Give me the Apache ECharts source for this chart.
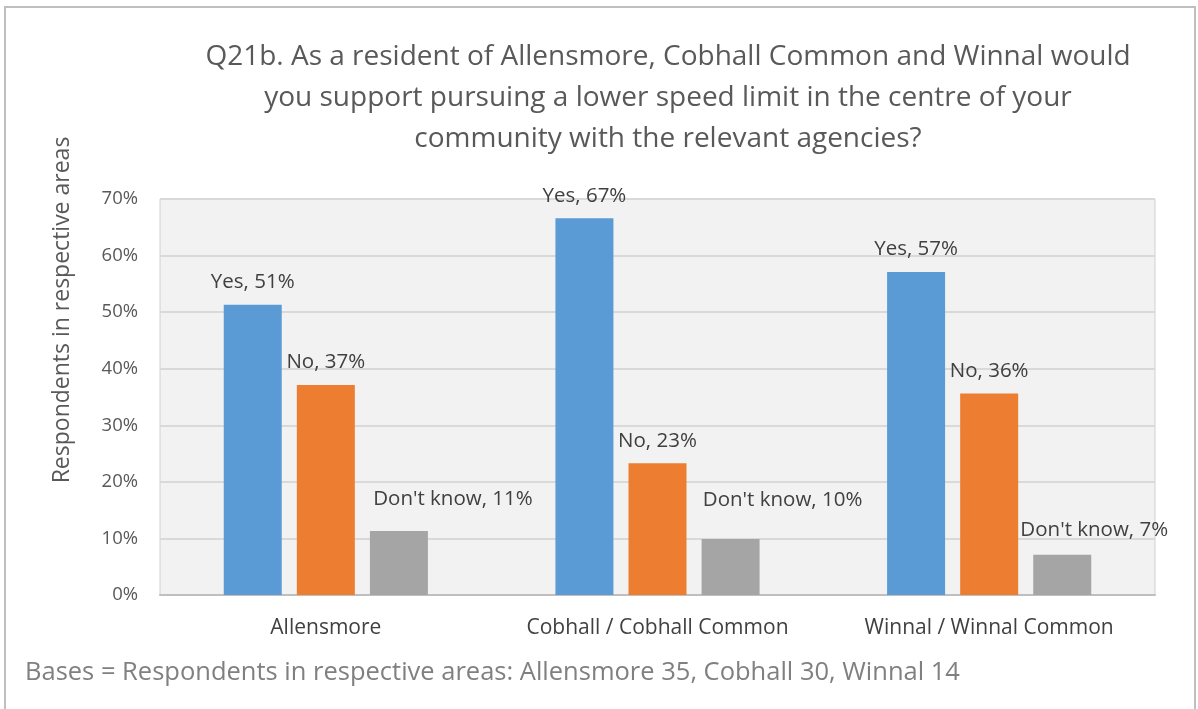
<!DOCTYPE html>
<html><head><meta charset="utf-8">
<script src="https://cdn.jsdelivr.net/npm/echarts@6/dist/echarts.min.js"></script>
<style>html,body{margin:0;padding:0;background:#fff}#c{width:1198px;height:709px}</style>
</head><body><div id="c"></div>
<script>
const categories = ['Allensmore', 'Cobhall / Cobhall Common', 'Winnal / Winnal Common'];
const seriesNames = ['Yes', 'No', "Don't know"];
const yesValues = [51.3, 66.6, 57.1];
const noValues = [37.1, 23.3, 35.6];
const dkValues = [11.3, 9.9, 7.1];
const yTicks = [0, 10, 20, 30, 40, 50, 60, 70];
const titleText = 'Q21b. As a resident of Allensmore, Cobhall Common and Winnal would\nyou support pursuing a lower speed limit in the centre of your\ncommunity with the relevant agencies?';
const yAxisTitle = 'Respondents in respective areas';
const footText = 'Bases = Respondents in respective areas: Allensmore 35, Cobhall 30, Winnal 14';

const font = '"Open Sans", sans-serif';
const colors = ['#5b9bd5', '#ed7d31', '#a5a5a5'];
const labelStyle = {show: true, position: 'top', distance: 12, color: '#404040', fontSize: 20.5, fontFamily: font,
  formatter: p => p.seriesName + ', ' + Math.round(p.value) + '%'};
// per-item label tweaks for the "Don't know" series
const dkLabelTweaks = [[54, -9], [52, -16], [32, -2]];

function mk(name, vals, idx, tweaks) {
  return {
    name: name, type: 'bar', barWidth: 58, barGap: '26%',
    itemStyle: {color: colors[idx]},
    label: labelStyle,
    data: vals.map((v, i) => tweaks ? {value: v, label: {offset: tweaks[i]}} : v)
  };
}

const chart = echarts.init(document.getElementById('c'), null, {renderer: 'canvas'});
chart.setOption({
  animation: false,
  title: {text: titleText, left: 663, top: 32, textAlign: 'center',
    textStyle: {fontFamily: font, fontSize: 28, fontWeight: 'normal', color: '#595959', lineHeight: 41}},
  grid: {left: 160, right: 43, top: 199, bottom: 114, show: true, backgroundColor: '#f2f2f2', borderColor: '#d0d0d0', borderWidth: 1},
  xAxis: {type: 'category', data: categories,
    axisLine: {lineStyle: {color: '#bfbfbf', width: 2}}, axisTick: {show: false},
    axisLabel: {interval: 0, color: '#404040', fontSize: 21, fontFamily: font, margin: 23}},
  yAxis: {type: 'value', min: 0, max: 70, interval: 10,
    axisLine: {show: false}, axisTick: {show: false},
    splitLine: {lineStyle: {color: '#d9d9d9', width: 2}},
    axisLabel: {color: '#595959', fontSize: 18.5, fontFamily: font, margin: 22, formatter: v => v + '%'}},
  series: [mk(seriesNames[0], yesValues, 0), mk(seriesNames[1], noValues, 1), mk(seriesNames[2], dkValues, 2, dkLabelTweaks)],
  graphic: [
    {type: 'rect', shape: {x: 5, y: 7, width: 1190, height: 720}, style: {fill: 'none', stroke: '#bfbfbf', lineWidth: 2}, z: 100},
    {type: 'text', x: 62, y: 310, rotation: Math.PI / 2, style: {text: yAxisTitle, fill: '#595959', fontSize: 23, fontFamily: font, align: 'center', verticalAlign: 'middle'}},
    {type: 'text', left: 25, top: 660, style: {text: footText, fill: '#808080', fontSize: 25.5, fontFamily: font}}
  ]
});
</script></body></html>
